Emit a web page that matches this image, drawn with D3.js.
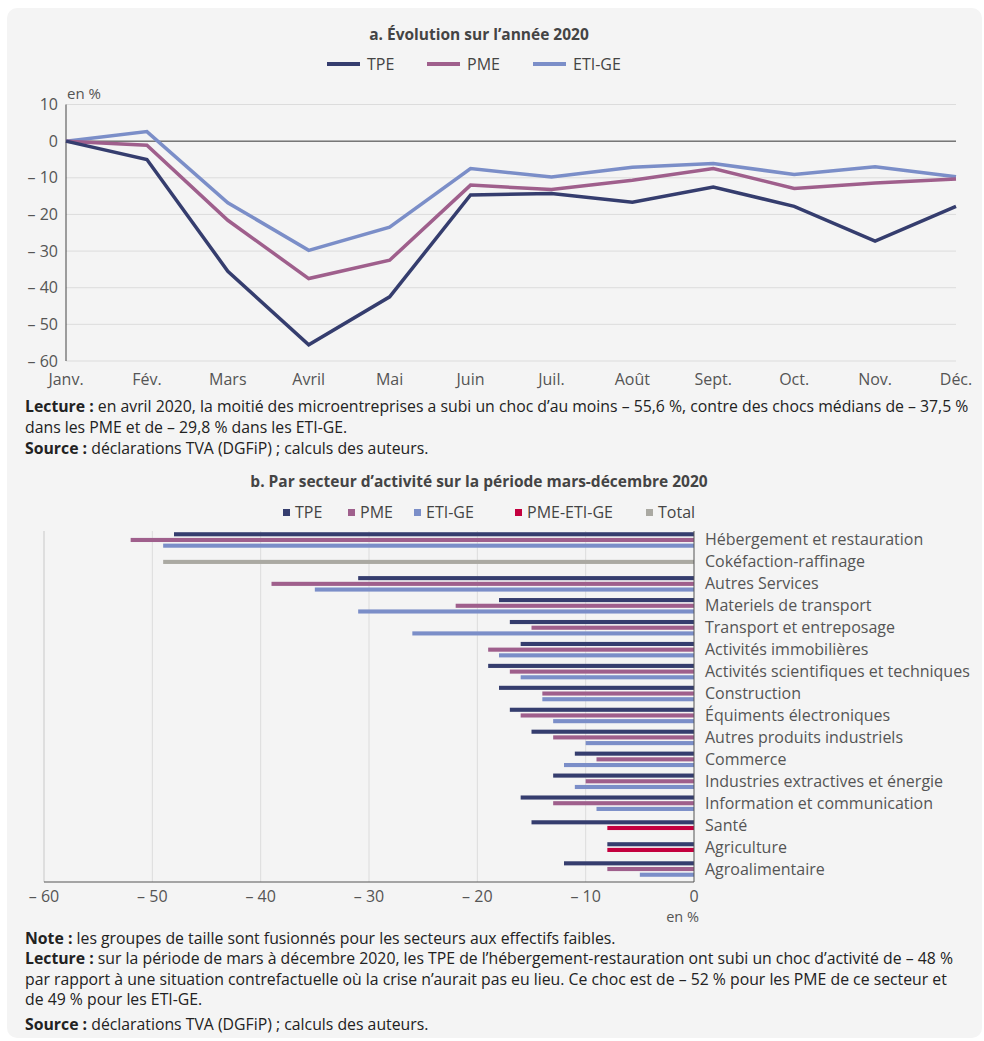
<!DOCTYPE html>
<html>
<head>
<meta charset="utf-8">
<script src="https://cdn.jsdelivr.net/npm/d3@7"></script>
<style>
  body { margin: 0; background: #fff; }
  svg { display: block; font-family: "Open Sans", sans-serif; }
</style>
</head>
<body>
<svg width="984" height="1041"></svg>
<script>
// Top chart data (en %)
var months = ["Janv.", "Fév.", "Mars", "Avril", "Mai", "Juin", "Juil.", "Août", "Sept.", "Oct.", "Nov.", "Déc."];
var tpe = [0, -5.0, -35.5, -55.6, -42.5, -14.7, -14.3, -16.7, -12.5, -17.8, -27.3, -17.8];
var pme = [0, -1.1, -21.6, -37.5, -32.5, -12.0, -13.2, -10.7, -7.5, -12.9, -11.4, -10.3];
var etiGe = [0, 2.6, -16.8, -29.8, -23.5, -7.5, -9.8, -7.1, -6.1, -9.1, -7.0, -9.7];
var topTicks = [10, 0, -10, -20, -30, -40, -50, -60];

// Bottom chart data (en %)
var sectors = ["Hébergement et restauration", "Cokéfaction-raffinage", "Autres Services", "Materiels de transport",
  "Transport et entreposage", "Activités immobilières", "Activités scientifiques et techniques", "Construction",
  "Équiments électroniques", "Autres produits industriels", "Commerce", "Industries extractives et énergie",
  "Information et communication", "Santé", "Agriculture", "Agroalimentaire"];
var secTPE    = [-48, null, -31, -18, -17, -16, -19, -18, -17, -15, -11, -13, -16, -15, -8, -12];
var secPME    = [-52, null, -39, -22, -15, -19, -17, -14, -16, -13, -9, -10, -13, null, null, -8];
var secETI    = [-49, null, -35, -31, -26, -18, -16, -14, -13, -10, -12, -11, -9, null, null, -5];
var secPmeEti = [null, null, null, null, null, null, null, null, null, null, null, null, null, -8, -8, null];
var secTotal  = [null, -49, null, null, null, null, null, null, null, null, null, null, null, null, null, null];
var bottomTicks = [-60, -50, -40, -30, -20, -10, 0];

var colors = {TPE: "#353d6e", PME: "#9f5f8c", "ETI-GE": "#7b8ec8", "PME-ETI-GE": "#c4003f", Total: "#aaa9a2"};

function fmt(v) { return v < 0 ? "– " + Math.abs(v) : String(v); }

var svg = d3.select("svg");

// panel background
svg.append("rect")
  .attr("x", 7).attr("y", 8).attr("width", 975).attr("height", 1030)
  .attr("rx", 10).attr("fill", "#f4f4f4");

// ---------- a. line chart ----------
var x = d3.scalePoint().domain(months).range([66, 956]);
var y = d3.scaleLinear().domain([-60, 10]).range([361, 104.5]);

svg.append("text")
  .attr("x", 479).attr("y", 40).attr("text-anchor", "middle")
  .attr("font-size", 15.5).attr("font-weight", "bold").attr("fill", "#444")
  .text("a. Évolution sur l’année 2020");

var lineSeries = [
  {name: "TPE", values: tpe, lx: 327},
  {name: "PME", values: pme, lx: 427},
  {name: "ETI-GE", values: etiGe, lx: 533}
];

var leg = svg.append("g").selectAll("g").data(lineSeries).enter().append("g");
leg.append("line")
  .attr("x1", function(d) { return d.lx; }).attr("x2", function(d) { return d.lx + 33; })
  .attr("y1", 64).attr("y2", 64)
  .attr("stroke", function(d) { return colors[d.name]; }).attr("stroke-width", 4);
leg.append("text")
  .attr("x", function(d) { return d.lx + 40; }).attr("y", 70)
  .attr("font-size", 16).attr("fill", "#444")
  .text(function(d) { return d.name; });

// gridlines
svg.append("g").selectAll("line").data(topTicks.filter(function(t) { return t !== 0; }))
  .enter().append("line")
  .attr("x1", 66).attr("x2", 956)
  .attr("y1", function(d) { return y(d); }).attr("y2", function(d) { return y(d); })
  .attr("stroke", "#dcdcdc").attr("stroke-width", 1);
svg.append("line")
  .attr("x1", 66).attr("x2", 956).attr("y1", y(0)).attr("y2", y(0))
  .attr("stroke", "#333").attr("stroke-width", 1);
svg.append("line")
  .attr("x1", 66).attr("x2", 66).attr("y1", y(10)).attr("y2", y(-60))
  .attr("stroke", "#444").attr("stroke-width", 1);

svg.append("g").selectAll("text").data(topTicks).enter().append("text")
  .attr("x", 58).attr("y", function(d) { return y(d) + 5.5; })
  .attr("text-anchor", "end").attr("font-size", 16).attr("fill", "#555")
  .text(fmt);
svg.append("text").attr("x", 67).attr("y", 99)
  .attr("font-size", 15).attr("fill", "#555").text("en %");

svg.append("g").selectAll("text").data(months).enter().append("text")
  .attr("x", function(d) { return x(d); }).attr("y", 385)
  .attr("text-anchor", "middle").attr("font-size", 16).attr("fill", "#555")
  .text(function(d) { return d; });

var line = d3.line()
  .x(function(d, i) { return x(months[i]); })
  .y(function(d) { return y(d); });

svg.append("g").selectAll("path").data(lineSeries.slice().reverse()).enter().append("path")
  .attr("d", function(d) { return line(d.values); })
  .attr("fill", "none")
  .attr("stroke", function(d) { return colors[d.name]; })
  .attr("stroke-width", 3.5)
  .attr("stroke-linejoin", "miter");

// notes a
function noteLine(yy, bold, rest) {
  var t = svg.append("text").attr("x", 25).attr("y", yy)
    .attr("font-size", 15.8).attr("fill", "#222");
  if (bold) t.append("tspan").attr("font-weight", "bold").text(bold);
  t.append("tspan").text(rest);
}
noteLine(412, "Lecture :", " en avril 2020, la moitié des microentreprises a subi un choc d’au moins – 55,6 %, contre des chocs médians de – 37,5 %");
noteLine(433, null, "dans les PME et de – 29,8 % dans les ETI-GE.");
noteLine(454, "Source :", " déclarations TVA (DGFiP) ; calculs des auteurs.");

// ---------- b. bar chart ----------
svg.append("text")
  .attr("x", 479).attr("y", 487).attr("text-anchor", "middle")
  .attr("font-size", 15.5).attr("font-weight", "bold").attr("fill", "#444")
  .text("b. Par secteur d’activité sur la période mars-décembre 2020");

var barSeries = [
  {name: "TPE", values: secTPE, lx: 283},
  {name: "PME", values: secPME, lx: 348},
  {name: "ETI-GE", values: secETI, lx: 414},
  {name: "PME-ETI-GE", values: secPmeEti, lx: 515},
  {name: "Total", values: secTotal, lx: 646}
];

var leg2 = svg.append("g").selectAll("g").data(barSeries).enter().append("g");
leg2.append("rect")
  .attr("x", function(d) { return d.lx; }).attr("y", 509)
  .attr("width", 7).attr("height", 7)
  .attr("fill", function(d) { return colors[d.name]; });
leg2.append("text")
  .attr("x", function(d) { return d.lx + 12; }).attr("y", 518)
  .attr("font-size", 16).attr("fill", "#444")
  .text(function(d) { return d.name; });

var xb = d3.scaleLinear().domain([-60, 0]).range([44, 694]);
var yb = d3.scaleBand().domain(sectors).range([529, 880]);

svg.append("g").selectAll("line").data(bottomTicks.filter(function(t) { return t !== 0; }))
  .enter().append("line")
  .attr("x1", function(d) { return xb(d); }).attr("x2", function(d) { return xb(d); })
  .attr("y1", 531).attr("y2", 882)
  .attr("stroke", function(d) { return d === -60 ? "#c8c8c8" : "#dcdcdc"; }).attr("stroke-width", 1);

// bars: each sector stacks its available series around the band centre
var step = 5.7;
var bars = [];
sectors.forEach(function(s, i) {
  var present = barSeries.filter(function(b) { return b.values[i] !== null; });
  var c = yb(s) + yb.bandwidth() / 2;
  var inner = d3.scaleBand().domain(present.map(function(b) { return b.name; }))
    .range([c - present.length * step / 2, c + present.length * step / 2]);
  present.forEach(function(b) {
    bars.push({series: b.name, value: b.values[i], y: inner(b.name), h: inner.bandwidth()});
  });
});

svg.append("g").selectAll("rect").data(bars).enter().append("rect")
  .attr("x", function(d) { return xb(d.value); })
  .attr("y", function(d) { return d.y + 0.8; })
  .attr("width", function(d) { return xb(0) - xb(d.value); })
  .attr("height", function(d) { return d.h - 1.6; })
  .attr("fill", function(d) { return colors[d.series]; });

svg.append("line")
  .attr("x1", xb(0)).attr("x2", xb(0)).attr("y1", 531).attr("y2", 882)
  .attr("stroke", "#555").attr("stroke-width", 1);
svg.append("line")
  .attr("x1", 44).attr("x2", xb(0)).attr("y1", 882).attr("y2", 882)
  .attr("stroke", "#555").attr("stroke-width", 1.2);

svg.append("g").selectAll("text").data(bottomTicks).enter().append("text")
  .attr("x", function(d) { return xb(d); }).attr("y", 902)
  .attr("text-anchor", "middle").attr("font-size", 16).attr("fill", "#555")
  .text(fmt);
svg.append("text").attr("x", 699).attr("y", 922).attr("text-anchor", "end")
  .attr("font-size", 14.5).attr("fill", "#555").text("en %");

svg.append("g").selectAll("text").data(sectors).enter().append("text")
  .attr("x", 705).attr("y", function(d) { return yb(d) + yb.bandwidth() / 2 + 5.5; })
  .attr("font-size", 16).attr("fill", "#555")
  .text(function(d) { return d; });

// notes b
noteLine(944, "Note :", " les groupes de taille sont fusionnés pour les secteurs aux effectifs faibles.");
noteLine(964, "Lecture :", " sur la période de mars à décembre 2020, les TPE de l’hébergement-restauration ont subi un choc d’activité de – 48 %");
noteLine(985, null, "par rapport à une situation contrefactuelle où la crise n’aurait pas eu lieu. Ce choc est de – 52 % pour les PME de ce secteur et");
noteLine(1005, null, "de 49 % pour les ETI-GE.");
noteLine(1030, "Source :", " déclarations TVA (DGFiP) ; calculs des auteurs.");
</script>
</body>
</html>
